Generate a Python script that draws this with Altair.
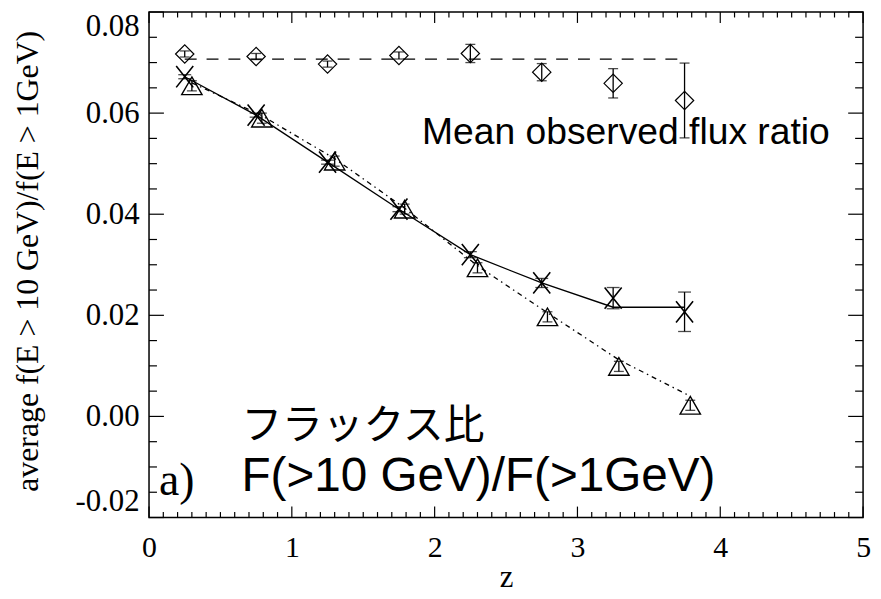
import altair as alt
import pandas as pd

# ---------------- data ----------------
z_bins = [0.25, 0.75, 1.25, 1.75, 2.25, 2.75, 3.25, 3.75]

# mean observed flux ratio (diamonds)
diamond_val = [0.0717, 0.0712, 0.0697, 0.0714, 0.0718, 0.0681, 0.0659, 0.0625]
diamond_err = [0.0006, 0.0006, 0.0006, 0.0007, 0.0018, 0.0017, 0.0029, 0.0074]
mean_line_z = [0.25, 3.75]
mean_line_v = [0.0707, 0.0707]

# crosses (solid line)
cross_val = [0.0672, 0.0596, 0.0503, 0.0410, 0.0320, 0.0264, 0.0234, 0.0207]
cross_err = [0.0004, 0.0004, 0.0004, 0.0005, 0.0006, 0.0009, 0.0021, 0.0039]
cross_line_v = [0.0672, 0.0596, 0.0503, 0.0410, 0.0320, 0.0264, 0.0216, 0.0216]

# triangles (dash-dot line)
tri_z = [0.30, 0.79, 1.30, 1.79, 2.30, 2.79, 3.29, 3.79]
tri_val = [0.0654, 0.0590, 0.0505, 0.0410, 0.0294, 0.0197, 0.0099, 0.0022]
tri_err = [0.0010, 0.0010, 0.0010, 0.0010, 0.0010, 0.0010, 0.0010, 0.0010]
tri_line_v = [0.0660, 0.0595, 0.0510, 0.0412, 0.0298, 0.0205, 0.0112, 0.0040]

# axis ticks
x_major = [0, 1, 2, 3, 4, 5]
x_minor = [round(i * 0.1, 1) for i in range(51) if i % 10 != 0]
y_major = [-0.02, 0.0, 0.02, 0.04, 0.06, 0.08]
y_minor = [-0.015, -0.01, -0.005, 0.005, 0.01, 0.015, 0.025, 0.03, 0.035,
           0.045, 0.05, 0.055, 0.065, 0.07, 0.075]

# annotations (data coordinates)
ann_mean = {"t": ["Mean observed flux ratio"], "z": [1.912], "v": [0.0539]}
ann_jp = {"t": ["フラックス比"], "z": [0.647], "v": [-0.0045]}
ann_f = {"t": ["F(>10 GeV)/F(>1GeV)"], "z": [0.647], "v": [-0.0147]}
ann_a = {"t": ["a)"], "z": [0.07], "v": [-0.0155]}

# ---------------- chart ----------------
W, H = 719, 509
SERIF = "Liberation Serif"
SANS = "Liberation Sans"

xs = alt.Scale(domain=[0, 5], nice=False, zero=False)
ys = alt.Scale(domain=[-0.02, 0.08], nice=False, zero=False)

x_axis = alt.Axis(values=x_major, format="d", ticks=False, domain=False, grid=False,
                  labelFont=SERIF, labelFontSize=30, labelPadding=15, labelColor="black",
                  labelFlush=False,
                  title="z", titleFont=SERIF, titleFontSize=31, titleFontWeight="normal",
                  titleColor="black", titleX=W / 2, titleY=69, titleBaseline="alphabetic",
                  titleAlign="center")
y_axis = alt.Axis(values=y_major, ticks=False, domain=False, grid=False,
                  labelExpr="replace(format(datum.value, '.2f'), '\u2212', '-')",
                  labelFont=SERIF, labelFontSize=31, labelPadding=10, labelColor="black",
                  labelFlush=True,
                  title="average f(E > 10 GeV)/f(E > 1GeV)", titleFont=SERIF,
                  titleFontSize=32, titleFontWeight="normal", titleColor="black",
                  titleAngle=270, titleX=-122, titleY=H / 2 - 4, titleBaseline="middle",
                  titleAlign="center")

def X(field="z"):
    return alt.X(f"{field}:Q", scale=xs, axis=x_axis)

def Y(field="v"):
    return alt.Y(f"{field}:Q", scale=ys, axis=y_axis)

diam = pd.DataFrame({"z": z_bins, "v": diamond_val,
                     "lo": [v - e for v, e in zip(diamond_val, diamond_err)],
                     "hi": [v + e for v, e in zip(diamond_val, diamond_err)]})
cross = pd.DataFrame({"z": z_bins, "v": cross_val,
                      "lo": [v - e for v, e in zip(cross_val, cross_err)],
                      "hi": [v + e for v, e in zip(cross_val, cross_err)]})
tri = pd.DataFrame({"z": tri_z, "v": tri_val,
                    "lo": [v - e for v, e in zip(tri_val, tri_err)],
                    "hi": [v + e for v, e in zip(tri_val, tri_err)]})
mean_line = pd.DataFrame({"z": mean_line_z, "v": mean_line_v})
cross_line = pd.DataFrame({"z": z_bins, "v": cross_line_v})
tri_line = pd.DataFrame({"z": tri_z, "v": tri_line_v})

layers = []

# lines
layers.append(alt.Chart(mean_line).mark_line(color="black", strokeWidth=1.3,
                                             strokeDash=[12, 10]).encode(x=X(), y=Y()))
layers.append(alt.Chart(cross_line).mark_line(color="black", strokeWidth=1.3).encode(x=X(), y=Y()))
layers.append(alt.Chart(tri_line).mark_line(color="black", strokeWidth=1.3,
                                            strokeDash=[5, 4, 1.5, 4]).encode(x=X(), y=Y()))

# error bars
def errbars(df, cap):
    return alt.Chart(df).mark_errorbar(
        color="black",
        rule={"strokeWidth": 1.3, "color": "black"},
        ticks={"size": cap, "thickness": 1.3, "color": "black"},
    ).encode(x=X(), y=Y("lo"), y2="hi:Q")

layers.append(errbars(diam, 10))
layers.append(errbars(cross, 13))
layers.append(errbars(tri, 10))

# markers
layers.append(alt.Chart(diam).mark_point(shape="diamond", size=340, filled=False,
                                         color="black", strokeWidth=1.2, opacity=1)
              .encode(x=X(), y=Y()))
layers.append(alt.Chart(cross).mark_point(shape="M-0.8,-1L0.8,1M-0.8,1L0.8,-1", size=460,
                                          filled=False, color="black", strokeWidth=1.6,
                                          opacity=1).encode(x=X(), y=Y()))
layers.append(alt.Chart(tri).mark_point(shape="triangle-up", size=420, filled=False,
                                        color="black", strokeWidth=1.4, opacity=1)
              .encode(x=X(), y=Y()))

# inward ticks on all four sides
def vticks(vals, length, side):
    df = pd.DataFrame({"v": vals})
    if side == "left":
        xx, xx2 = alt.value(0), alt.value(length)
    else:
        xx, xx2 = alt.value(W), alt.value(W - length)
    return alt.Chart(df).mark_rule(color="black", strokeWidth=1.2).encode(y=Y(), x=xx, x2=xx2)

def hticks(vals, length, side):
    df = pd.DataFrame({"z": vals})
    if side == "bottom":
        yy, yy2 = alt.value(H), alt.value(H - length)
    else:
        yy, yy2 = alt.value(0), alt.value(length)
    return alt.Chart(df).mark_rule(color="black", strokeWidth=1.2).encode(x=X(), y=yy, y2=yy2)

layers += [vticks(y_major, 15, "left"), vticks(y_minor, 8, "left"),
           vticks(y_major, 15, "right"), vticks(y_minor, 8, "right"),
           hticks(x_major, 11, "bottom"), hticks(x_minor, 5.5, "bottom"),
           hticks(x_major, 11, "top"), hticks(x_minor, 5.5, "top")]

# annotations
def label(d, font, size):
    return alt.Chart(pd.DataFrame(d)).mark_text(align="left", baseline="alphabetic",
                                                font=font, fontSize=size, color="black") \
        .encode(x=X(), y=Y(), text="t:N")

layers += [label(ann_mean, SANS, 37.5),
           label(ann_jp, "Noto Sans CJK JP", 41),
           label(ann_f, SANS, 48),
           label(ann_a, SERIF, 46)]

chart = alt.layer(*layers).properties(
    width=W, height=H,
    autosize=alt.AutoSizeParams(type="none"),
    padding={"left": 142, "top": 2, "right": 10, "bottom": 80},
    background="white",
).configure_view(stroke="black", strokeWidth=1.5)

chart.save("out.html", embed_options={"renderer": "svg", "actions": False})
